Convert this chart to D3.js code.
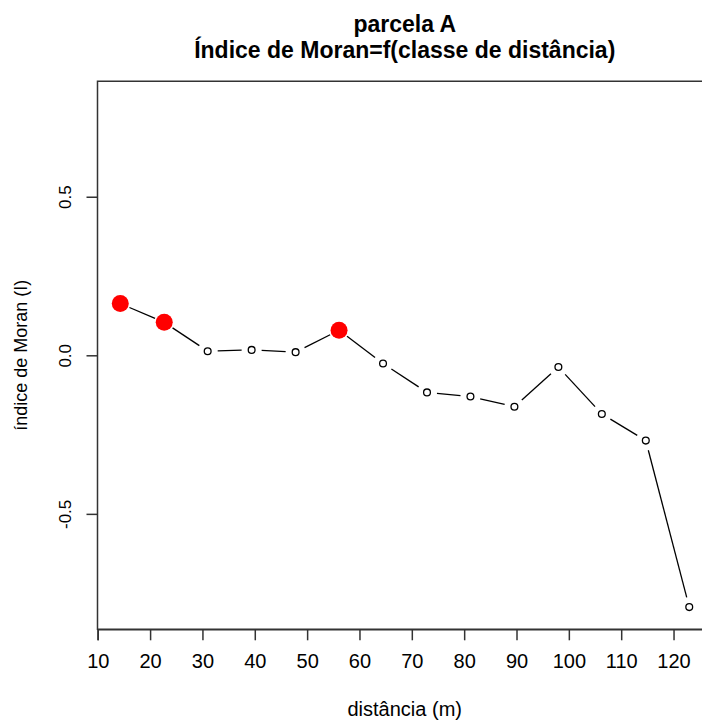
<!DOCTYPE html>
<html lang="pt">
<meta charset="utf-8" />
<style>
  body { margin: 0; background: #fff; }
  text { font-family: "Liberation Sans", Arial, sans-serif; fill: #000; }
</style>
<svg width="702" height="720"></svg>
<script src="https://d3js.org/d3.v7.min.js"></script>
<script>
// classes de distância (m) e índice de Moran
var distancia = [14.3, 22.7, 31.0, 39.4, 47.8, 56.1, 64.5, 72.9, 81.2, 89.6, 98.0, 106.3, 114.7, 123.0];
var moran = [0.163, 0.104, 0.013, 0.017, 0.010, 0.079, -0.026, -0.117, -0.130, -0.162, -0.037, -0.185, -0.269, -0.794];
// classes significativas (pontos vermelhos)
var signif = [true, true, false, false, false, true, false, false, false, false, false, false, false, false];
var xTicks = [10, 20, 30, 40, 50, 60, 70, 80, 90, 100, 110, 120];
var yTicks = [-0.5, 0.0, 0.5];
var yLim = [-0.8, 0.8];

var svg = d3.select("svg");

var plotL = 97.5, plotR = 712, plotT = 81.3, plotB = 629.3;

// domínio à moda do R (4% de folga)
var xe = d3.extent(distancia), xpad = (xe[1] - xe[0]) * 0.04;
var ypad = (yLim[1] - yLim[0]) * 0.04;

var x = d3.scaleLinear()
    .domain([xe[0] - xpad, xe[1] + xpad])
    .range([plotL, plotR]);
var y = d3.scaleLinear()
    .domain([yLim[0] - ypad, yLim[1] + ypad])
    .range([plotB, plotT]);

var pts = distancia.map(function(d, i) {
  return { x: x(d), y: y(moran[i]), s: signif[i] };
});

// linhas com intervalo em volta dos pontos (type="b")
var gap = 10;
var segs = [];
for (var i = 0; i < pts.length - 1; i++) {
  var a = pts[i], b = pts[i + 1];
  var dx = b.x - a.x, dy = b.y - a.y, len = Math.sqrt(dx * dx + dy * dy);
  if (len > 2 * gap) {
    var ux = dx / len, uy = dy / len;
    segs.push([a.x + ux * gap, a.y + uy * gap, b.x - ux * gap, b.y - uy * gap]);
  }
}

svg.append("g").selectAll("line")
  .data(segs)
  .enter().append("line")
    .attr("x1", function(d) { return d[0]; })
    .attr("y1", function(d) { return d[1]; })
    .attr("x2", function(d) { return d[2]; })
    .attr("y2", function(d) { return d[3]; })
    .attr("stroke", "#000")
    .attr("stroke-width", 1.3);

svg.append("g").selectAll("circle")
  .data(pts.filter(function(d) { return !d.s; }))
  .enter().append("circle")
    .attr("cx", function(d) { return d.x; })
    .attr("cy", function(d) { return d.y; })
    .attr("r", 3.4)
    .attr("fill", "none")
    .attr("stroke", "#000")
    .attr("stroke-width", 1.3);

svg.append("g").selectAll("circle")
  .data(pts.filter(function(d) { return d.s; }))
  .enter().append("circle")
    .attr("cx", function(d) { return d.x; })
    .attr("cy", function(d) { return d.y; })
    .attr("r", 8.5)
    .attr("fill", "#ff0000");

// caixa
svg.append("path")
  .attr("d", "M" + (plotR + 5) + "," + plotT + "H" + plotL + "V" + plotB + "H" + (plotR + 5))
  .attr("fill", "none")
  .attr("stroke", "#333")
  .attr("stroke-width", 1.5);

// eixo x
var gx = svg.append("g")
  .attr("transform", "translate(0," + plotB + ")")
  .call(d3.axisBottom(x).tickValues(xTicks).tickSize(11).tickPadding(14));
gx.select(".domain").attr("stroke", "#333").attr("stroke-width", 1.5);
gx.selectAll(".tick line").attr("stroke", "#333").attr("stroke-width", 1.5);
gx.selectAll(".tick text")
  .attr("font-family", "Liberation Sans, Arial, sans-serif")
  .attr("font-size", 20)
  .attr("fill", "#000");

// eixo y (rótulos verticais, hífen como sinal de menos)
var gy = svg.append("g")
  .attr("transform", "translate(" + plotL + ",0)")
  .call(d3.axisLeft(y).tickValues(yTicks).tickSize(11)
    .tickFormat(function(d) { return d.toFixed(1); }));
gy.select(".domain").remove();
gy.selectAll(".tick line").attr("stroke", "#333").attr("stroke-width", 1.5);
gy.selectAll(".tick text")
  .attr("font-family", "Liberation Sans, Arial, sans-serif")
  .attr("font-size", 17)
  .attr("fill", "#000")
  .attr("x", null).attr("dy", null)
  .attr("text-anchor", "middle")
  .attr("dominant-baseline", "central")
  .attr("transform", "translate(-31.8,0) rotate(-90)");

// títulos
var cx = (plotL + plotR) / 2;
svg.append("text")
  .attr("x", cx).attr("y", 31.5)
  .attr("text-anchor", "middle")
  .attr("font-weight", "bold")
  .attr("font-size", 23)
  .text("parcela A");
svg.append("text")
  .attr("x", cx).attr("y", 58)
  .attr("text-anchor", "middle")
  .attr("font-weight", "bold")
  .attr("font-size", 23)
  .text("Índice de Moran=f(classe de distância)");

svg.append("text")
  .attr("x", cx).attr("y", 716)
  .attr("text-anchor", "middle")
  .attr("font-size", 20)
  .text("distância (m)");

svg.append("text")
  .attr("transform", "translate(27," + ((plotT + plotB) / 2) + ") rotate(-90)")
  .attr("text-anchor", "middle")
  .attr("font-size", 18)
  .text("índice de Moran (I)");
</script>
</html>
